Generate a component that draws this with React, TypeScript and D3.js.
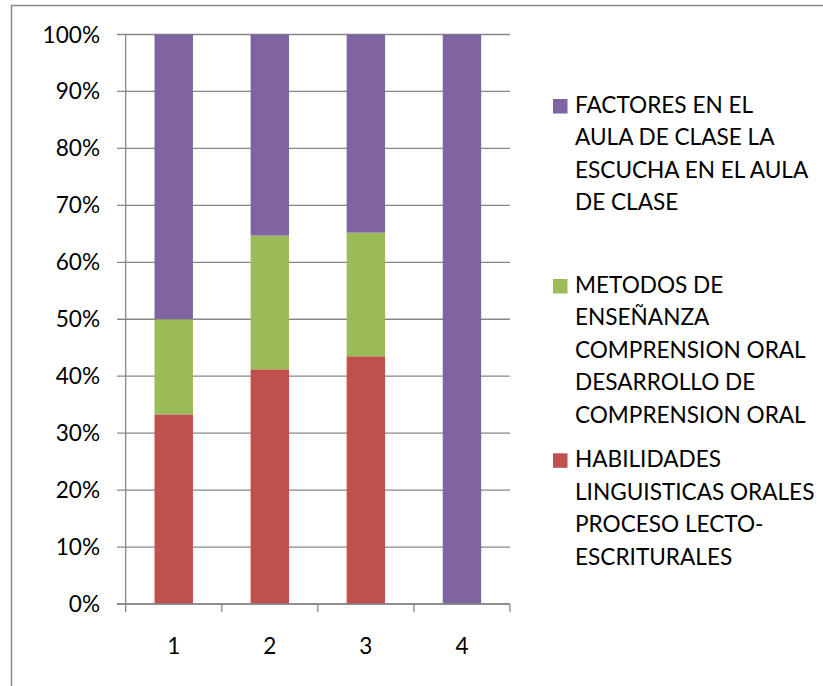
import React from "react";
import * as d3 from "d3";

const categories = ["1", "2", "3", "4"];
const seriesNames = [
  "HABILIDADES LINGUISTICAS ORALES PROCESO LECTO-ESCRITURALES",
  "METODOS DE ENSEÑANZA COMPRENSION ORAL DESARROLLO DE COMPRENSION ORAL",
  "FACTORES EN EL AULA DE CLASE LA ESCUCHA EN EL AULA DE CLASE",
];
const habilidades = [33.3, 41.2, 43.5, 0];
const metodos = [16.7, 23.5, 21.7, 0];
const factores = [50.0, 35.3, 34.8, 100];
const yTicks = [0, 10, 20, 30, 40, 50, 60, 70, 80, 90, 100];
const colors = ["#C0504D", "#9BBB59", "#8064A2"];
const legendLines = [
  ["HABILIDADES", "LINGUISTICAS ORALES", "PROCESO LECTO-", "ESCRITURALES"],
  ["METODOS DE", "ENSEÑANZA", "COMPRENSION ORAL", "DESARROLLO DE", "COMPRENSION ORAL"],
  ["FACTORES EN EL", "AULA DE CLASE LA", "ESCUCHA EN EL AULA", "DE CLASE"],
];

export default function App() {
  const W = 823, H = 686;
  const left = 125.7, right = 510, top = 34.5, bottom = 604;
  const x = d3.scaleBand<string>().domain(categories).range([left, right]).paddingInner(0.6).paddingOuter(0.3);
  const y = d3.scaleLinear().domain([0, 100]).range([bottom, top]);
  const rows = categories.map((c, i) => ({ cat: c, s0: habilidades[i], s1: metodos[i], s2: factores[i] }));
  const stacked = d3.stack<any>().keys(["s0", "s1", "s2"])(rows);
  const font = "Lato, 'Open Sans', sans-serif";
  const fs = 22.6;
  const step = x.step();
  const boundaries = d3.range(categories.length + 1).map((i) => left + i * step);
  const legendTop = [453.3, 279, 99];
  const lineH = 32.4;
  return (
    <svg width={W} height={H} style={{ position: "absolute", left: 0, top: 0, background: "#fff" }}>
      <rect x={11.5} y={5.5} width={W} height={H} fill="#fff" stroke="#888" strokeWidth={1.5} />
      {yTicks.map((t) => (
        <g key={t}>
          <line x1={117} x2={right} y1={y(t)} y2={y(t)} stroke="#878787" strokeWidth={1.3} />
          <text x={100} y={y(t) + 8} textAnchor="end" fontFamily={font} fontSize={fs} fill="#000">
            {t}%
          </text>
        </g>
      ))}
      {stacked.map((layer, si) => (
        <g key={si} fill={colors[si]}>
          {layer.map((d, i) =>
            d[1] - d[0] > 0 ? (
              <rect key={i} x={x(categories[i])} width={x.bandwidth()} y={y(d[1])} height={y(d[0]) - y(d[1])} />
            ) : null
          )}
        </g>
      ))}
      <line x1={left} x2={left} y1={top} y2={bottom} stroke="#878787" strokeWidth={1.3} />
      <line x1={117} x2={right} y1={bottom} y2={bottom} stroke="#878787" strokeWidth={1.3} />
      {boundaries.map((b, i) => (
        <line key={i} x1={b} x2={b} y1={bottom} y2={bottom + 8} stroke="#878787" strokeWidth={1.3} />
      ))}
      {categories.map((c) => (
        <text key={c} x={(x(c) as number) + x.bandwidth() / 2} y={654} textAnchor="middle" fontFamily={font} fontSize={fs} fill="#000">
          {c}
        </text>
      ))}
      {legendLines.map((lines, si) => (
        <g key={si}>
          <rect x={553} y={legendTop[si]} width={14.5} height={14.5} fill={colors[si]}>
            <title>{seriesNames[si]}</title>
          </rect>
          {lines.map((ln, li) => (
            <text key={li} x={575} y={legendTop[si] + 14 + li * lineH} fontFamily={font} fontSize={fs} fill="#000">
              {ln}
            </text>
          ))}
        </g>
      ))}
    </svg>
  );
}
